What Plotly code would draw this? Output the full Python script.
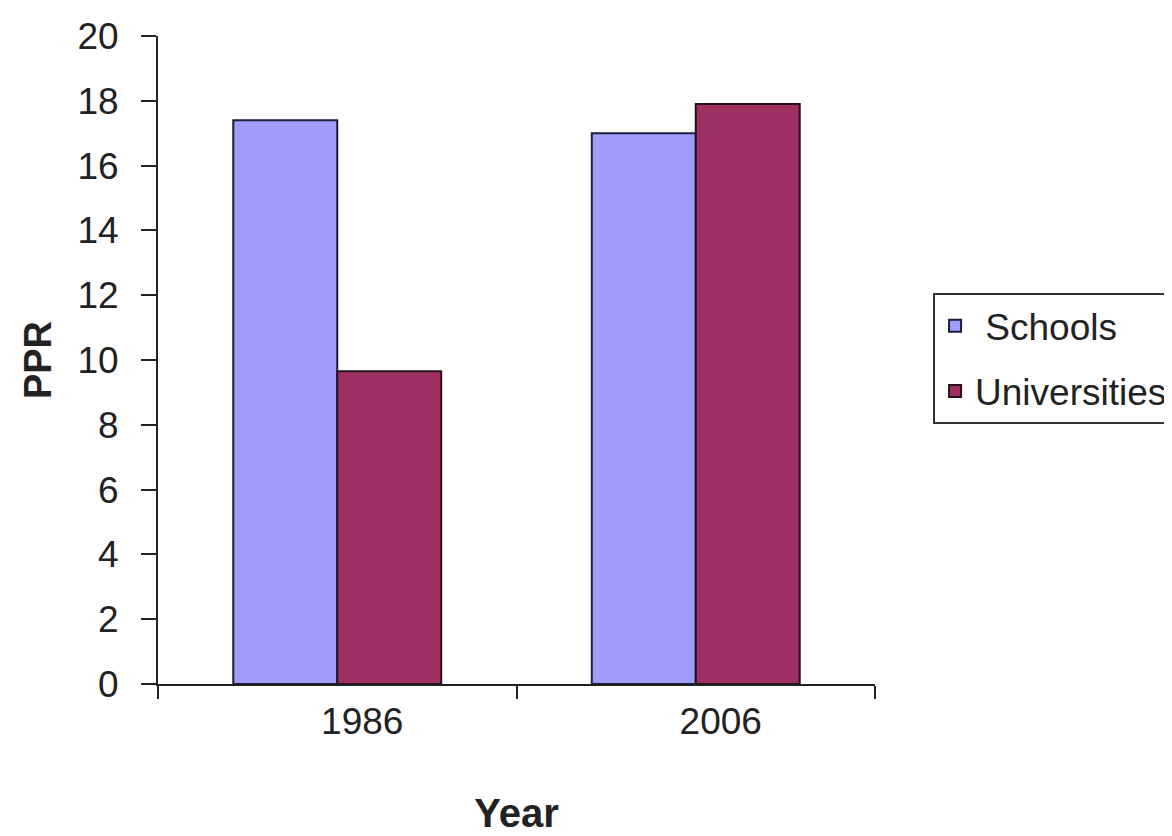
import plotly.graph_objects as go

years = ["1986", "2006"]
schools = [17.4, 17.0]
universities = [9.65, 17.9]
y_ticks = [0, 2, 4, 6, 8, 10, 12, 14, 16, 18, 20]

FONT = "Liberation Sans, Arial, sans-serif"

fig = go.Figure()
fig.add_trace(go.Bar(
    x=years, y=schools, name=" Schools", legendgroup="a",
    marker=dict(color="#9f9cfb", line=dict(color="#1c1c3c", width=2)),
))
fig.add_trace(go.Bar(
    x=years, y=universities, name="Universities", legendgroup="b",
    marker=dict(color="#9e2f63", line=dict(color="#2a0f1c", width=2)),
))

fig.update_layout(
    width=1172, height=836,
    margin=dict(l=150, r=305, t=28, b=160, autoexpand=False),
    paper_bgcolor="white", plot_bgcolor="white",
    barmode="group", bargap=0.42, bargroupgap=0,
    font=dict(family=FONT, size=37, color="#222222"),
    showlegend=True,
    legend=dict(
        x=1.081, y=0.603, xanchor="left", yanchor="top",
        bordercolor="#333333", borderwidth=2, bgcolor="white",
        font=dict(size=37, color="#222222"),
        traceorder="grouped", tracegroupgap=14,
    ),
    xaxis=dict(
        type="category",
        showline=True, linecolor="#222222", linewidth=2,
        ticks="outside", ticklen=13, tickwidth=2, tickcolor="#222222",
        tickson="boundaries", ticklabelshift=25, ticklabelstandoff=4,
        showgrid=False, zeroline=False,
        title=dict(text="<b>Year</b>", font=dict(size=40), standoff=58),
    ),
    yaxis=dict(
        range=[0, 20], tickvals=y_ticks,
        showline=True, linecolor="#222222", linewidth=2,
        ticks="outside", ticklen=15, tickwidth=2, tickcolor="#222222",
        ticklabelstandoff=15,
        showgrid=False, zeroline=False,
        title=dict(text="<b>PPR</b>", font=dict(size=38), standoff=14),
    ),
)

fig.write_html("out.html")
